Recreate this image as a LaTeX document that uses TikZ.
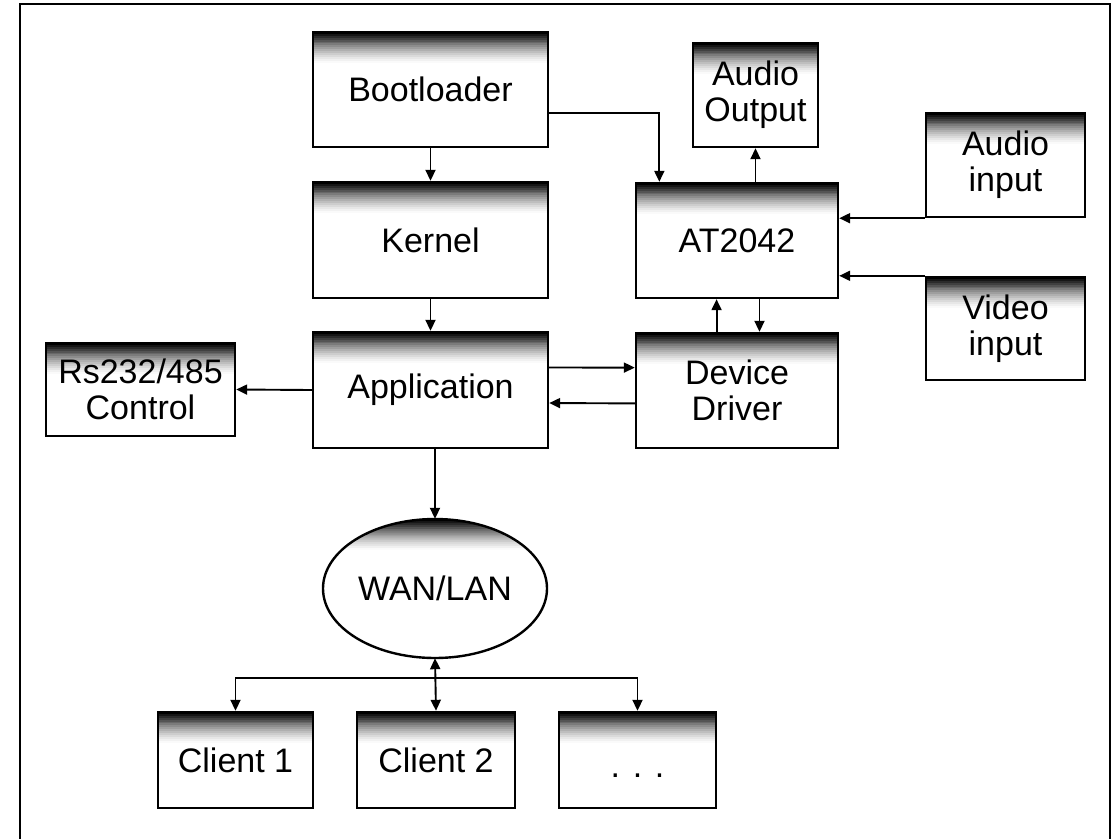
\documentclass[tikz,border=0pt]{standalone}
\usepackage{fontspec}
\setmainfont{Liberation Sans}
\usetikzlibrary{arrows.meta,shapes.geometric,calc}

% dark band fading to white, 16 strips below the point #1
\newcommand{\fadeband}[1]{%
  \foreach \k in {0,...,15} {
    \pgfmathsetmacro\lev{100*(1-\k/16)^1.4}
    \pgfmathsetmacro\ya{1.9*\k}
    \pgfmathsetmacro\yb{1.9*\k+2.2}
    \fill[black!\lev] ($(#1)+(-300,\ya)$) rectangle ($(#1)+(300,\yb)$);
  }}

\tikzset{
  topshade/.style={path picture={\fadeband{path picture bounding box.north}}},
  block/.style={draw, line width=2.4pt, rectangle, fill=white, align=center,
      inner sep=0pt, font=\fontsize{34}{36}\selectfont, topshade},
  cloudshape/.style={ellipse, inner sep=0pt, font=\fontsize{34}{36}\selectfont},
  outline/.style={line width=2.4pt},
  arr/.style={line width=1.9pt, -{Triangle[length=11pt,width=10pt]}},
  dbl/.style={line width=1.9pt, {Triangle[length=11pt,width=10pt]}-{Triangle[length=11pt,width=10pt]}},
}

\begin{document}
\begin{tikzpicture}[x=1pt,y=-1pt]
  \clip (0,0) rectangle (1118,838);
  \fill[white] (0,0) rectangle (1118,838);
  % outer frame
  \draw[line width=2pt] (20,4) rectangle (1110,870);

  % software stack
  \node[block, minimum width=235pt, minimum height=115pt] (boot) at (430.5,89.5) {Bootloader};
  \node[block, minimum width=235pt, minimum height=116pt] (kernel) at (430.5,240) {Kernel};
  \node[block, minimum width=235pt, minimum height=116pt] (app) at (430.5,390) {Application};
  \node[block, minimum width=189pt, minimum height=93pt] (rs) at (140.5,389.5) {Rs232/485\\Control};

  % hardware side
  \node[block, minimum width=125pt, minimum height=104pt] (aout) at (755.5,95) {Audio\\Output};
  \node[block, minimum width=202pt, minimum height=115pt] (at) at (737,240.5) {AT2042};
  \node[block, minimum width=202pt, minimum height=115pt] (dd) at (737,390.5) {Device\\Driver};
  \node[block, minimum width=159pt, minimum height=104pt] (ain) at (1005.5,165) {Audio\\input};
  \node[block, minimum width=159pt, minimum height=103pt] (vin) at (1005.5,328.5) {Video\\input};

  % WAN/LAN ellipse: nested caps, lightest and deepest first, darkest last
  \foreach \k/\g in {15/2,14/6,13/10,12/14,11/20,10/25,9/31,8/38,
                     7/45,6/52,5/59,4/67,3/75,2/83,1/91,0/100} {
    \pgfmathsetmacro\ang{asin((69.5-2.2-1.9*\k)/69.5)}
    \pgfmathsetmacro\angb{180-\ang}
    \fill[black!\g] plot[domain=\ang:\angb, samples=40]
      ({435+112*cos(\x)},{588.5-69.5*sin(\x)}) -- cycle;
  }
  \node[cloudshape, minimum width=224pt, minimum height=139pt] (wan) at (435,588.5) {WAN/LAN};
  \draw[outline] (wan.center) ellipse [x radius=112pt, y radius=69.5pt];

  % clients
  \node[block, minimum width=155pt, minimum height=96pt] (c1) at (235.5,760) {Client 1};
  \node[block, minimum width=158pt, minimum height=96pt] (c2) at (436,760) {Client 2};
  \node[block, minimum width=157pt, minimum height=96pt] (c3) at (637.5,760) {\strut\raisebox{-10pt}{. . .}};

  % connectors
  \draw[arr] (boot.south) -- (kernel.north);
  \draw[arr] (kernel.south) -- (app.north);
  \draw[arr] ($(boot.north east)!0.70!(boot.south east)$) -| ($(at.north west)!0.12!(at.north east)$);
  \draw[arr] (at.north -| aout.south) -- (aout.south);
  \draw[arr] (ain.south west) -- (ain.south west -| at.east);
  \draw[arr] (vin.north west) -- (vin.north west -| at.east);
  \draw[arr] ($(dd.north west)!0.40!(dd.north east)$) -- ($(at.south west)!0.40!(at.south east)$);
  \draw[arr] ($(at.south west)!0.61!(at.south east)$) -- ($(dd.north west)!0.61!(dd.north east)$);
  \draw[arr] ($(app.north east)!0.31!(app.south east)$) -- ($(dd.north west)!0.305!(dd.south west)$);
  \draw[arr] ($(dd.north west)!0.61!(dd.south west)$) -- ($(app.north east)!0.61!(app.south east)$);
  \draw[arr] (app.west) -- (rs.east);
  \draw[arr] (app.south -| wan.north) -- (wan.north);
  \draw[dbl] (wan.south) -- (c2.north);
  \coordinate (hub) at (435,678);
  \draw[arr] (hub) -| (c1.north);
  \draw[arr] (hub) -| (c3.north);
\end{tikzpicture}
\end{document}
